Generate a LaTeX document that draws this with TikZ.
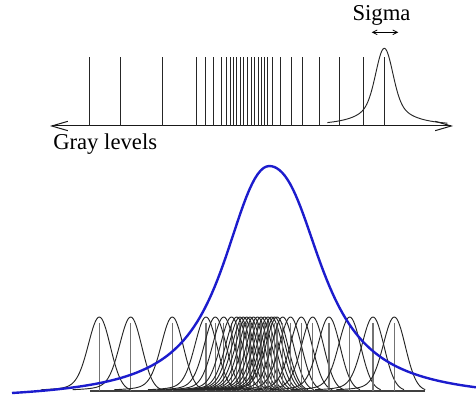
\documentclass[tikz,border=0pt]{standalone}
\usepackage{fontspec}
\setmainfont{Liberation Serif}
\usetikzlibrary{arrows.meta}
\definecolor{densblue}{RGB}{28,28,205}
\begin{document}
\begin{tikzpicture}[x=0.75pt,y=-0.75pt,
  declare function={
    bl(\x)=1/sqrt(1+1.2*(\x/48)*(\x/48)+((\x/48)*(\x/48))*((\x/48)*(\x/48)));
    br(\x)=1/sqrt(1+(\x/55)*(\x/55)+1.4*((\x/55)*(\x/55))*((\x/55)*(\x/55)));
    ft(\x)=0.6*exp(-(\x*\x)/128)+0.4/(1+(\x/20)*(\x/20));
    gl(\x)=0.75*exp(-(\x*\x)/242)+0.25/(1+(\x/16)*(\x/16));
    gr(\x)=exp(-(\x*\x)/242);
  },
  axisline/.style={line width=0.75pt, black!90},
  tickline/.style={line width=0.7pt, black!85},
  bump/.style={line width=0.7pt, black!85},
  lowtick/.style={line width=0.9pt, black!55},
  lowbase/.style={line width=0.8pt, black!75},
  density/.style={line width=1.8pt, densblue},
  lbl/.style={font=\fontsize{17}{20}\selectfont, inner sep=0pt},
  barb/.tip={Straight Barb[length=12pt,width=7pt]},
  smallbarb/.tip={Straight Barb[length=3.5pt,width=3.5pt]},
]
\useasboundingbox (0,0) rectangle (476,398);

% top axis
\coordinate (axL) at (50,126);
\coordinate (axR) at (453,126);
\draw[axisline, barb-barb] (axL) -- (axR);

% top ticks
\foreach \c in {89.3,120.7,162.3,196,205.3,213.7,221.5,226.7,230,233.3,236.7,240,243.5,247.5,251,254.5,258,261.5,264.5,267,272.7,280.5,291.3,302.7,319,339.7,363,384.3}{
  \draw[tickline] (\c,57.5) -- (\c,126);
}

% top kernel
\draw[bump] plot[domain=-57:63,samples=120,variable=\p] ({384.3+\p},{126-77.7*ft(\p)});

% sigma arrow and labels
\coordinate (sgL) at (371.7,32.3);
\coordinate (sgR) at (398.3,32.3);
\draw[line width=0.6pt, smallbarb-smallbarb] (sgL) -- (sgR);
\node[lbl, anchor=base] (sigma) at (381.5,21) {Sigma};
\node[lbl, anchor=base west] (gray) at (53,150) {Gray levels};

% bottom baseline
\coordinate (bbL) at (90,391);
\coordinate (bbR) at (425,391);
\draw[lowbase] (bbL) -- (bbR);

% bottom kernels
\foreach \c in {89.3,120.7,162.3,196,205.3,213.7,221.5,226.7,230,233.3,236.7,240,243.5,247.5,251,254.5,258,261.5,264.5,267,272.7,280.5,291.3,302.7,319,339.7,363,384.3}{
  \draw[lowtick] (\c+10,323) -- (\c+10,391);
  \draw[bump] plot[domain=-58:0,samples=45,variable=\p] ({\c+10+\p},{391-74*gl(\p)})
     -- plot[domain=0:31,samples=25,variable=\p] ({\c+10+\p},{391-74*gr(\p)});
}

% density curve
\draw[density] plot[domain=12:269.3,samples=90,variable=\p] (\p,{401-235*bl(\p-269.3)})
   -- plot[domain=269.3:476,samples=80,variable=\p] (\p,{401-235*br(\p-269.3)});
\end{tikzpicture}
\end{document}
